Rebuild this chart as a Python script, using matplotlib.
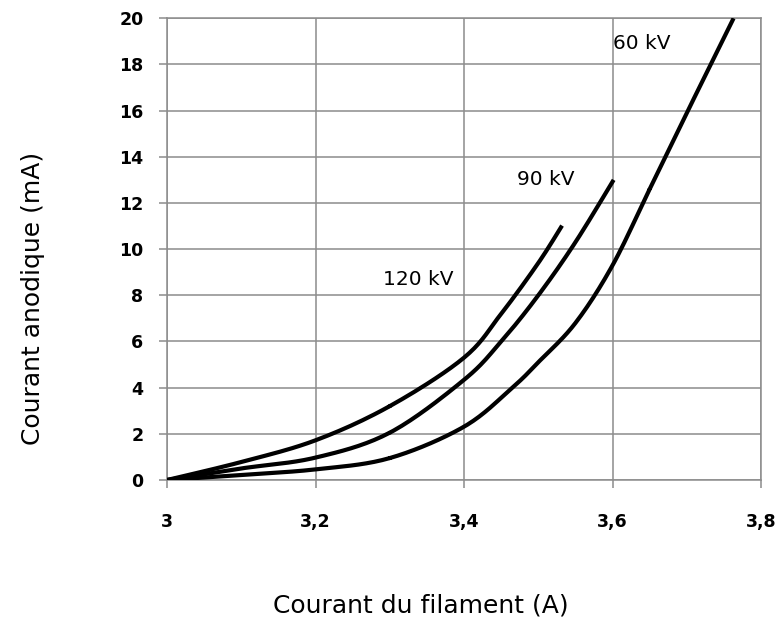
import matplotlib
matplotlib.use("Agg")
import matplotlib.pyplot as plt
import numpy as np

# courant du filament (A) / courant anodique (mA)
x_120 = [3.0, 3.10, 3.20, 3.30, 3.40, 3.45, 3.50, 3.532]
y_120 = [0.0, 0.78, 1.72, 3.2, 5.3, 7.2, 9.4, 11.02]

x_90 = [3.0, 3.10, 3.20, 3.30, 3.40, 3.45, 3.50, 3.55, 3.6015]
y_90 = [0.0, 0.5, 0.97, 2.05, 4.34, 6.0, 8.0, 10.3, 13.0]

x_60 = [3.0, 3.10, 3.20, 3.30, 3.40, 3.465, 3.50, 3.55, 3.60,
        3.65, 3.70, 3.763]
y_60 = [0.0, 0.22, 0.46, 0.95, 2.31, 4.0, 5.1, 6.8, 9.3,
        12.6, 15.9, 20.0]

labels = ["120 kV", "90 kV", "60 kV"]
label_pos = [(3.291, 8.68), (3.472, 13.0), (3.60, 18.9)]

x_ticks = [3.0, 3.2, 3.4, 3.6, 3.8]
x_tick_labels = ["3", "3,2", "3,4", "3,6", "3,8"]
y_ticks = list(range(0, 21, 2))


def smooth(xs, ys, n=20):
    # courbe lissee (catmull-rom) a travers les points lus
    p = np.column_stack([xs, ys])
    p = np.vstack([p[0], p, p[-1]])
    out = []
    for i in range(1, len(p) - 2):
        p0, p1, p2, p3 = p[i - 1], p[i], p[i + 1], p[i + 2]
        t = np.linspace(0, 1, n)[:, None]
        seg = 0.5 * ((2 * p1) + (-p0 + p2) * t + (2 * p0 - 5 * p1 + 4 * p2 - p3) * t ** 2
                     + (-p0 + 3 * p1 - 3 * p2 + p3) * t ** 3)
        out.append(seg)
    out = np.vstack(out)
    return out[:, 0], out[:, 1]


fig = plt.figure(figsize=(7.78, 6.35), dpi=100)
ax = fig.add_axes([0.2147, 0.2441, 0.7635, 0.7271])

for xs, ys in [(x_120, y_120), (x_90, y_90), (x_60, y_60)]:
    sx, sy = smooth(xs, ys)
    ax.plot(sx, sy, color="black", lw=3, solid_capstyle="butt", zorder=3)

for txt, (tx, ty) in zip(labels, label_pos):
    ax.text(tx, ty, txt, fontsize=14.5, va="center", ha="left", color="black")

ax.set_xlim(3.0, 3.8)
ax.set_ylim(0, 20)
ax.set_xticks(x_ticks)
ax.set_xticklabels(x_tick_labels)
ax.set_yticks(y_ticks)
ax.grid(True, color="#8c8c8c", lw=1.1)
for s in ax.spines.values():
    s.set_color("#8c8c8c")
    s.set_linewidth(1.1)
ax.tick_params(axis="both", color="#8c8c8c", width=1.1, length=6, labelsize=12.5)
ax.tick_params(axis="y", pad=11)
ax.tick_params(axis="x", pad=18)
for lab in ax.get_xticklabels() + ax.get_yticklabels():
    lab.set_fontweight("bold")

fig.text(421 / 778, 1 - 606 / 635, "Courant du filament (A)", fontsize=18,
         ha="center", va="center")
fig.text(33 / 778, 1 - 298 / 635, "Courant anodique (mA)", fontsize=18,
         ha="center", va="center", rotation=90)

fig.savefig("out.png", dpi=100)
